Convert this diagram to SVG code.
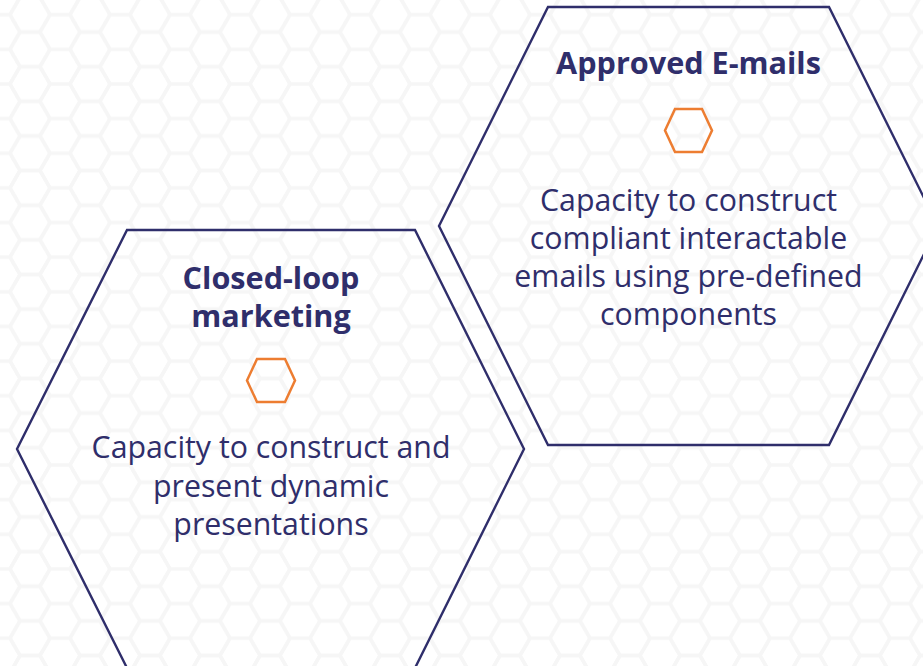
<svg xmlns="http://www.w3.org/2000/svg" width="923" height="666" viewBox="0 0 923 666">
  <defs>
    <pattern id="honey" patternUnits="userSpaceOnUse" x="30" y="14.7" width="60" height="34.64">
      <g fill="none" stroke="#f6f6f6" stroke-width="3.5">
        <polygon points="-20,0 -10,-17.32 10,-17.32 20,0 10,17.32 -10,17.32"/>
        <polygon points="40,0 50,-17.32 70,-17.32 80,0 70,17.32 50,17.32"/>
        <polygon points="-20,34.64 -10,17.32 10,17.32 20,34.64 10,51.96 -10,51.96"/>
        <polygon points="40,34.64 50,17.32 70,17.32 80,34.64 70,51.96 50,51.96"/>
        <polygon points="10,17.32 20,0 40,0 50,17.32 40,34.64 20,34.64"/>
      </g>
    </pattern>
    <style>
      .big { fill: none; stroke: #2f2e6b; stroke-width: 2.4; stroke-linejoin: miter; }
      .icon { fill: none; stroke: #ed7d31; stroke-width: 2.5; }
      .title { font-family: "Open Sans", "Noto Sans", sans-serif; font-weight: bold; font-size: 30.6px; fill: #2f2e6b; text-anchor: middle; }
      .body { font-family: "Open Sans", "Noto Sans", sans-serif; font-size: 30.3px; fill: #2f2e6b; text-anchor: middle; }
    </style>
  </defs>
  <rect width="923" height="666" fill="#ffffff"/>
  <rect width="923" height="666" fill="url(#honey)"/>

  <g id="node-approved-emails">
    <polygon class="big" points="548,7 829,7 938,226 829,445 548,445 439,226"/>
    <polygon class="icon" points="665,130.5 675,109 702,109 712,130.5 702,152 675,152"/>
    <text class="title" x="688.5" y="74">Approved E-mails</text>
    <text class="body" x="688.5" y="211">Capacity to construct</text>
    <text class="body" x="688.5" y="249">compliant interactable</text>
    <text class="body" x="688.5" y="287">emails using pre-defined</text>
    <text class="body" x="688.5" y="325">components</text>
  </g>

  <g id="node-closed-loop">
    <polygon class="big" points="127,230 415,230 524,449 415,668 127,668 17,449"/>
    <polygon class="icon" points="247,380.5 257,359 285,359 295,380.5 285,402 257,402"/>
    <text class="title" x="271" y="289">Closed-loop</text>
    <text class="title" x="271" y="327">marketing</text>
    <text class="body" x="271" y="458">Capacity to construct and</text>
    <text class="body" x="271" y="497">present dynamic</text>
    <text class="body" x="271" y="535">presentations</text>
  </g>

  <g id="connectors"></g>
</svg>
